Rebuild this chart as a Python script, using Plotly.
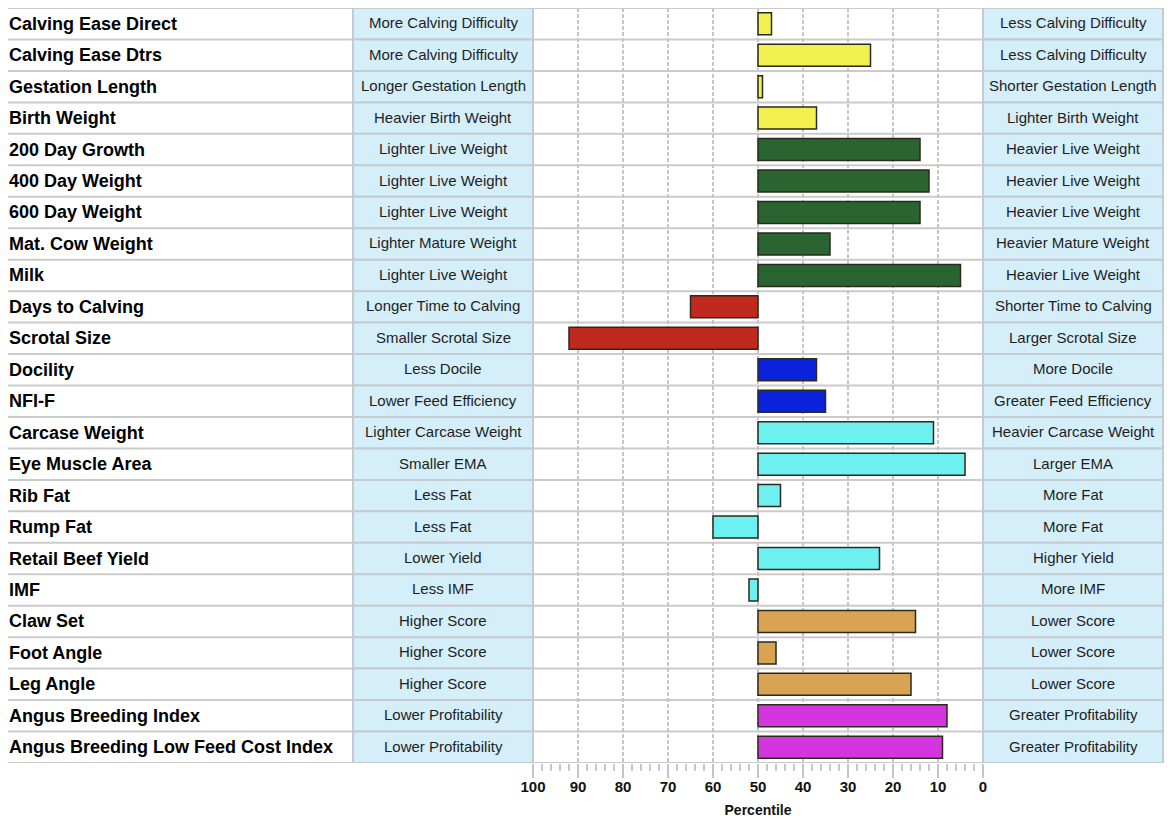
import plotly.graph_objects as go

# Trait names, down the page
traits = ['Calving Ease Direct', 'Calving Ease Dtrs', 'Gestation Length', 'Birth Weight',
          '200 Day Growth', '400 Day Weight', '600 Day Weight', 'Mat. Cow Weight', 'Milk',
          'Days to Calving', 'Scrotal Size', 'Docility', 'NFI-F', 'Carcase Weight',
          'Eye Muscle Area', 'Rib Fat', 'Rump Fat', 'Retail Beef Yield', 'IMF',
          'Claw Set', 'Foot Angle', 'Leg Angle', 'Angus Breeding Index',
          'Angus Breeding Low Feed Cost Index']

# Percentile band for each trait
percentiles = [47, 25, 49, 37, 14, 12, 14, 34, 5, 65, 92, 37, 35, 11, 4, 45, 60, 23, 52,
               15, 46, 16, 8, 9]

groups = ['calving'] * 4 + ['growth'] * 5 + ['fertility'] * 2 + ['feed'] * 2 + \
         ['carcase'] * 6 + ['structure'] * 3 + ['index'] * 2

left_text = ['More Calving Difficulty', 'More Calving Difficulty', 'Longer Gestation Length',
             'Heavier Birth Weight', 'Lighter Live Weight', 'Lighter Live Weight',
             'Lighter Live Weight', 'Lighter Mature Weight', 'Lighter Live Weight',
             'Longer Time to Calving', 'Smaller Scrotal Size', 'Less Docile',
             'Lower Feed Efficiency', 'Lighter Carcase Weight', 'Smaller EMA', 'Less Fat',
             'Less Fat', 'Lower Yield', 'Less IMF', 'Higher Score', 'Higher Score',
             'Higher Score', 'Lower Profitability', 'Lower Profitability']

right_text = ['Less Calving Difficulty', 'Less Calving Difficulty', 'Shorter Gestation Length',
              'Lighter Birth Weight', 'Heavier Live Weight', 'Heavier Live Weight',
              'Heavier Live Weight', 'Heavier Mature Weight', 'Heavier Live Weight',
              'Shorter Time to Calving', 'Larger Scrotal Size', 'More Docile',
              'Greater Feed Efficiency', 'Heavier Carcase Weight', 'Larger EMA', 'More Fat',
              'More Fat', 'Higher Yield', 'More IMF', 'Lower Score', 'Lower Score',
              'Lower Score', 'Greater Profitability', 'Greater Profitability']

tick_vals = [100, 90, 80, 70, 60, 50, 40, 30, 20, 10, 0]

group_colors = {'calving': '#f2ef50', 'growth': '#2a6431', 'fertility': '#c0291e',
                'feed': '#0a22dc', 'carcase': '#6cf0f0', 'structure': '#d8a454',
                'index': '#d535df'}

W, H = 1172, 828
FONT = 'Liberation Sans, Arial, sans-serif'


def px(x):
    return x / W


n = len(traits)
fig = go.Figure()

fig.add_trace(go.Bar(
    y=list(range(n)),
    x=[p - 50 for p in percentiles],
    base=50,
    orientation='h',
    width=0.7,
    marker=dict(color=[group_colors[g] for g in groups],
                line=dict(color='#2b2a1c', width=1.5)),
    hoverinfo='skip',
    showlegend=False,
))

shapes = []
annotations = []

# row separators across the whole width
for i in range(n + 1):
    shapes.append(dict(type='line', xref='paper', yref='y', x0=px(8), x1=px(1163),
                       y0=i - 0.5, y1=i - 0.5, line=dict(color='#cbcbcb', width=2),
                       layer='below'))

for i in range(n):
    for x0, x1, txt in [(353, 533, left_text[i]), (983, 1163, right_text[i])]:
        shapes.append(dict(type='rect', xref='paper', yref='y', x0=px(x0), x1=px(x1),
                           y0=i - 0.5, y1=i + 0.5, fillcolor='#d4eefa',
                           line=dict(color='#c3cbd0', width=2), layer='above'))
        annotations.append(dict(xref='paper', yref='y', x=px((x0 + x1) / 2), y=i,
                                text=txt, showarrow=False, xanchor='center', yshift=1,
                                font=dict(family=FONT, size=15, color='#1e1e1e')))
    annotations.append(dict(xref='paper', yref='y', x=px(7), y=i, text='<b>%s</b>' % traits[i],
                            showarrow=False, xanchor='left',
                            font=dict(family=FONT, size=18, color='#000000')))

fig.update_layout(
    width=W, height=H,
    margin=dict(l=0, r=0, t=0, b=0, autoexpand=False),
    plot_bgcolor='white', paper_bgcolor='white',
    shapes=shapes, annotations=annotations,
    font=dict(family=FONT, size=14, color='#111111'),
    xaxis=dict(domain=[px(533), px(983)], range=[100, 0], tickvals=tick_vals,
               ticktext=['<b>%d</b>' % t for t in tick_vals],
               tickfont=dict(size=15, color='#111111'), ticklabelstandoff=-4,
               showgrid=True, gridcolor='#c6c6c6', griddash='4px,2px', gridwidth=1.5,
               zeroline=False, showline=False, ticks='outside', ticklen=14,
               tickcolor='#c4c4c4', tickwidth=1.5, automargin=False,
               minor=dict(dtick=2, ticks='outside', ticklen=7, tickcolor='#c8c8c8',
                          tickwidth=1.5, showgrid=False),
               title=dict(text='<b>Percentile</b>', font=dict(size=14), standoff=11),
               fixedrange=True),
    yaxis=dict(domain=[(H - 763) / H, (H - 8) / H], range=[n - 0.5, -0.5],
               showticklabels=False, showgrid=False, zeroline=False, ticks='',
               automargin=False, fixedrange=True),
)

fig.write_html('out.html', config={'displayModeBar': False},
               post_script="document.body.style.margin='0';"
                           "document.body.style.overflow='hidden';")
